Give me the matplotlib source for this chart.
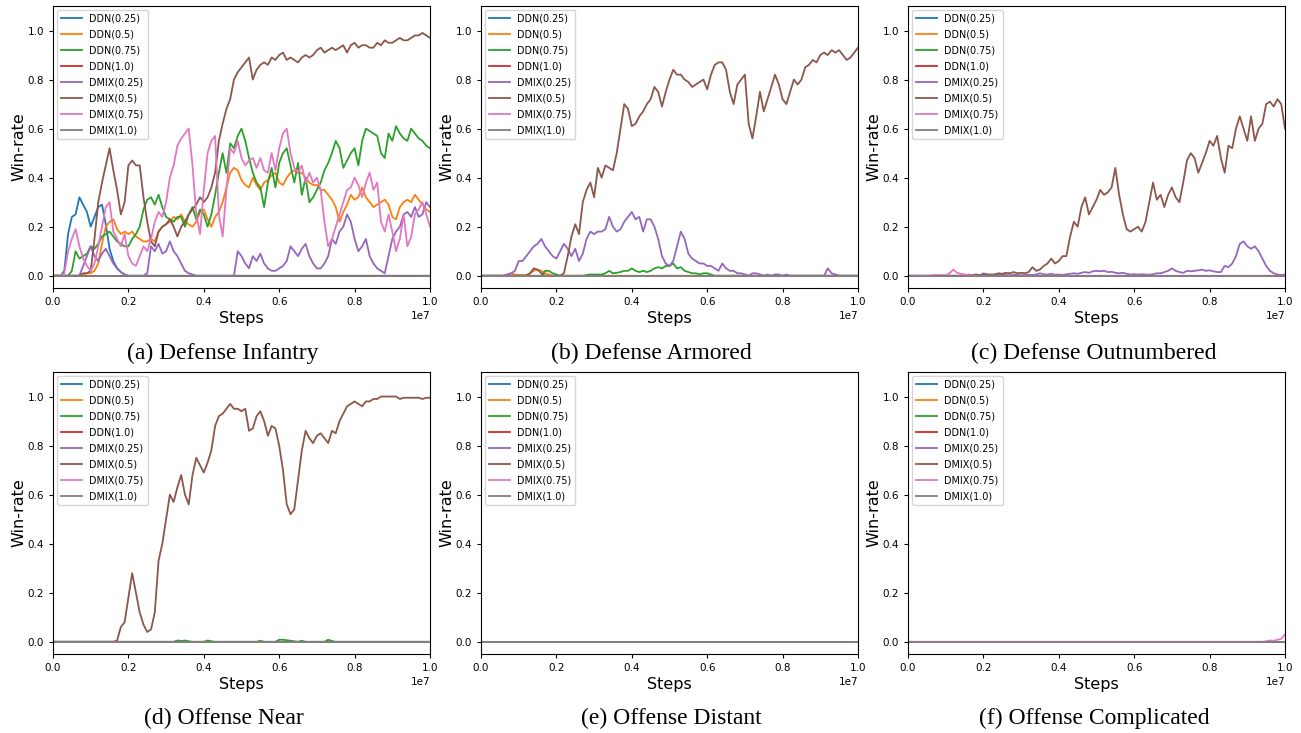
import numpy as np
import matplotlib
matplotlib.use("Agg")
import matplotlib.pyplot as plt

N_PTS = 101
steps = np.linspace(0, 1e7, N_PTS)

labels = ["DDN(0.25)", "DDN(0.5)", "DDN(0.75)", "DDN(1.0)",
          "DMIX(0.25)", "DMIX(0.5)", "DMIX(0.75)", "DMIX(1.0)"]
captions = ["(a) Defense Infantry", "(b) Defense Armored", "(c) Defense Outnumbered",
            "(d) Offense Near", "(e) Offense Distant", "(f) Offense Complicated"]


def pad(vals):
    # curves are flat at zero after the last value read
    return list(vals) + [0.0] * (N_PTS - len(vals))


zero = pad([])

# (a) Defense Infantry
a_ddn025 = pad([0, 0, 0, 0.02, 0.17, 0.24, 0.25, 0.32, 0.29, 0.26, 0.20, 0.24, 0.28, 0.29,
                0.21, 0.11, 0.06, 0.03, 0.015, 0.005])
a_ddn05 = pad([0, 0, 0, 0, 0, 0, 0, 0, 0.005, 0.01, 0.01, 0.02, 0.05, 0.13, 0.20, 0.22, 0.23,
               0.19, 0.17, 0.18, 0.17, 0.18, 0.16, 0.15, 0.14, 0.14, 0.15, 0.14, 0.18, 0.20,
               0.21, 0.22, 0.24, 0.23, 0.25, 0.22, 0.21, 0.20, 0.22, 0.26, 0.27, 0.23, 0.20,
               0.24, 0.26, 0.30, 0.36, 0.42, 0.44, 0.43, 0.39, 0.37, 0.36, 0.40, 0.37, 0.35,
               0.38, 0.39, 0.41, 0.42, 0.38, 0.37, 0.40, 0.42, 0.43, 0.42, 0.42, 0.40, 0.38,
               0.37, 0.37, 0.35, 0.35, 0.33, 0.31, 0.28, 0.22, 0.26, 0.29, 0.33, 0.31, 0.32,
               0.36, 0.32, 0.30, 0.28, 0.29, 0.30, 0.31, 0.29, 0.24, 0.23, 0.28, 0.30, 0.31,
               0.30, 0.33, 0.31, 0.29, 0.27, 0.26])
a_ddn075 = pad([0, 0, 0, 0, 0, 0.02, 0.10, 0.07, 0.08, 0.09, 0.12, 0.11, 0.13, 0.16, 0.17,
                0.18, 0.16, 0.14, 0.13, 0.12, 0.12, 0.15, 0.17, 0.20, 0.27, 0.31, 0.32, 0.29,
                0.33, 0.28, 0.24, 0.23, 0.22, 0.24, 0.24, 0.20, 0.25, 0.28, 0.23, 0.27, 0.25,
                0.20, 0.25, 0.33, 0.42, 0.50, 0.42, 0.54, 0.52, 0.57, 0.60, 0.55, 0.48, 0.42,
                0.38, 0.36, 0.28, 0.38, 0.44, 0.36, 0.46, 0.50, 0.52, 0.45, 0.38, 0.46, 0.33,
                0.40, 0.30, 0.32, 0.35, 0.38, 0.43, 0.46, 0.50, 0.55, 0.52, 0.44, 0.47, 0.50,
                0.52, 0.45, 0.55, 0.60, 0.59, 0.58, 0.57, 0.50, 0.48, 0.58, 0.55, 0.61, 0.58,
                0.56, 0.55, 0.60, 0.58, 0.56, 0.55, 0.53, 0.52])
a_dmix025 = pad([0, 0, 0, 0, 0, 0, 0, 0, 0.04, 0.08, 0.12, 0.08, 0.06, 0.09, 0.11, 0.08,
                 0.05, 0.03, 0.015, 0.005, 0, 0, 0, 0, 0, 0.01, 0.12, 0.10, 0.13, 0.09, 0.10,
                 0.14, 0.10, 0.08, 0.05, 0.02, 0.01, 0.005, 0, 0, 0, 0, 0, 0, 0, 0, 0, 0, 0,
                 0.10, 0.08, 0.05, 0.03, 0.08, 0.06, 0.09, 0.05, 0.03, 0.02, 0.02, 0.03, 0.04,
                 0.06, 0.12, 0.10, 0.08, 0.11, 0.13, 0.08, 0.05, 0.03, 0.03, 0.05, 0.08, 0.15,
                 0.13, 0.18, 0.20, 0.25, 0.22, 0.15, 0.10, 0.12, 0.15, 0.08, 0.05, 0.03, 0.02,
                 0.01, 0.08, 0.15, 0.18, 0.20, 0.25, 0.26, 0.24, 0.28, 0.24, 0.25, 0.30, 0.28])
a_dmix05 = pad([0, 0, 0, 0, 0, 0, 0, 0, 0.01, 0.01, 0.02, 0.15, 0.30, 0.38, 0.45, 0.52, 0.43,
                0.35, 0.25, 0.30, 0.45, 0.47, 0.45, 0.45, 0.32, 0.22, 0.14, 0.12, 0.18, 0.20,
                0.21, 0.23, 0.20, 0.16, 0.20, 0.22, 0.25, 0.27, 0.29, 0.32, 0.30, 0.32, 0.36,
                0.42, 0.55, 0.62, 0.68, 0.72, 0.80, 0.83, 0.85, 0.87, 0.89, 0.80, 0.84, 0.86,
                0.87, 0.86, 0.89, 0.88, 0.90, 0.91, 0.88, 0.89, 0.88, 0.87, 0.89, 0.90, 0.89,
                0.90, 0.92, 0.93, 0.91, 0.92, 0.93, 0.92, 0.93, 0.94, 0.91, 0.94, 0.95, 0.93,
                0.94, 0.94, 0.93, 0.93, 0.95, 0.94, 0.96, 0.95, 0.95, 0.96, 0.97, 0.96, 0.96,
                0.97, 0.98, 0.98, 0.99, 0.98, 0.97])
a_dmix075 = pad([0, 0, 0, 0.01, 0.10, 0.15, 0.19, 0.12, 0.07, 0.04, 0.02, 0.05, 0.12, 0.20,
                 0.28, 0.30, 0.18, 0.15, 0.12, 0.17, 0.08, 0.05, 0.04, 0.08, 0.12, 0.10, 0.15,
                 0.22, 0.26, 0.24, 0.30, 0.40, 0.45, 0.53, 0.56, 0.58, 0.60, 0.45, 0.25, 0.17,
                 0.35, 0.50, 0.55, 0.57, 0.25, 0.16, 0.35, 0.52, 0.50, 0.55, 0.48, 0.45, 0.47,
                 0.48, 0.44, 0.48, 0.43, 0.42, 0.50, 0.43, 0.52, 0.58, 0.60, 0.50, 0.44, 0.42,
                 0.45, 0.38, 0.42, 0.38, 0.40, 0.35, 0.22, 0.12, 0.15, 0.20, 0.25, 0.30, 0.35,
                 0.36, 0.40, 0.37, 0.32, 0.38, 0.42, 0.35, 0.38, 0.22, 0.18, 0.25, 0.18, 0.10,
                 0.15, 0.25, 0.12, 0.16, 0.25, 0.27, 0.30, 0.25, 0.20])

# (b) Defense Armored
b_ddn05 = pad([0, 0, 0, 0, 0, 0, 0, 0.005, 0.01, 0.005, 0.003, 0.003, 0.003, 0.01, 0.02,
               0.025, 0.02, 0.01, 0.005])
b_ddn075 = pad([0] * 17 + [0.02, 0.02, 0.01, 0.005, 0, 0, 0, 0, 0, 0, 0, 0.003, 0.005, 0.005,
                           0.005, 0.005, 0.01, 0.02, 0.01, 0.012, 0.015, 0.02, 0.02, 0.03,
                           0.02, 0.015, 0.02, 0.015, 0.02, 0.03, 0.035, 0.03, 0.04, 0.04, 0.05,
                           0.03, 0.035, 0.02, 0.015, 0.01, 0.01, 0.005, 0.01, 0.01, 0.005])
b_dmix025 = pad([0, 0, 0, 0, 0, 0, 0, 0.005, 0.01, 0.02, 0.06, 0.06, 0.08, 0.10, 0.12, 0.13,
                 0.15, 0.12, 0.10, 0.08, 0.07, 0.10, 0.13, 0.11, 0.08, 0.11, 0.06, 0.09, 0.15,
                 0.18, 0.17, 0.18, 0.18, 0.19, 0.24, 0.20, 0.18, 0.19, 0.22, 0.24, 0.26, 0.23,
                 0.24, 0.18, 0.23, 0.23, 0.20, 0.15, 0.08, 0.05, 0.04, 0.06, 0.12, 0.18, 0.15,
                 0.09, 0.07, 0.06, 0.05, 0.05, 0.04, 0.04, 0.03, 0.02, 0.05, 0.03, 0.02, 0.02,
                 0.01, 0.01, 0.005, 0, 0.01, 0.01, 0.005, 0, 0.005, 0, 0.005, 0.005, 0, 0.005,
                 0, 0, 0, 0, 0, 0, 0, 0, 0, 0, 0.03, 0.01, 0.005])
b_dmix05 = pad([0, 0, 0, 0, 0, 0, 0, 0, 0, 0, 0, 0, 0, 0.01, 0.03, 0.025, 0.01, 0, 0, 0, 0, 0,
                0.01, 0.08, 0.16, 0.21, 0.17, 0.30, 0.35, 0.38, 0.32, 0.44, 0.40, 0.45, 0.44,
                0.43, 0.50, 0.60, 0.70, 0.68, 0.61, 0.62, 0.65, 0.67, 0.70, 0.72, 0.77, 0.75,
                0.69, 0.75, 0.80, 0.84, 0.82, 0.82, 0.80, 0.79, 0.77, 0.78, 0.79, 0.80, 0.76,
                0.82, 0.86, 0.87, 0.87, 0.84, 0.75, 0.70, 0.78, 0.80, 0.82, 0.62, 0.56, 0.65,
                0.75, 0.67, 0.72, 0.77, 0.82, 0.78, 0.72, 0.70, 0.75, 0.80, 0.78, 0.80, 0.85,
                0.86, 0.88, 0.87, 0.90, 0.91, 0.90, 0.92, 0.91, 0.92, 0.90, 0.88, 0.89, 0.91,
                0.93])

# (c) Defense Outnumbered
c_dmix025 = pad([0] * 20 + [0.01, 0.005, 0.003, 0.005, 0.003, 0.005, 0.003, 0.002, 0.004,
                            0.003, 0.002, 0.003, 0.004, 0.003, 0.005, 0.01, 0.006, 0.005,
                            0.008, 0.004, 0.005, 0.003, 0.006, 0.008, 0.01, 0.008, 0.012,
                            0.015, 0.012, 0.018, 0.02, 0.018, 0.02, 0.015, 0.016, 0.012, 0.01,
                            0.012, 0.008, 0.005, 0.006, 0.005, 0.006, 0.005, 0.004, 0.006,
                            0.01, 0.01, 0.015, 0.02, 0.03, 0.02, 0.015, 0.012, 0.02, 0.018,
                            0.02, 0.022, 0.025, 0.02, 0.022, 0.018, 0.015, 0.015, 0.04, 0.035,
                            0.05, 0.08, 0.13, 0.14, 0.12, 0.11, 0.12, 0.10, 0.07, 0.04, 0.02,
                            0.01, 0.005, 0.003, 0.005])
c_dmix05 = pad([0] * 16 + [0.005, 0.003, 0.005, 0.003, 0.005, 0.005, 0.005, 0.005, 0.01,
                           0.008, 0.012, 0.01, 0.015, 0.01, 0.012, 0.01, 0.015, 0.035, 0.02,
                           0.025, 0.04, 0.05, 0.07, 0.05, 0.06, 0.08, 0.08, 0.16, 0.22, 0.20,
                           0.28, 0.32, 0.25, 0.28, 0.31, 0.35, 0.33, 0.34, 0.36, 0.44, 0.33,
                           0.25, 0.19, 0.18, 0.19, 0.20, 0.18, 0.22, 0.30, 0.38, 0.31, 0.33,
                           0.28, 0.33, 0.36, 0.32, 0.30, 0.38, 0.47, 0.50, 0.48, 0.42, 0.46,
                           0.50, 0.55, 0.53, 0.57, 0.48, 0.42, 0.53, 0.52, 0.60, 0.65, 0.60,
                           0.55, 0.65, 0.55, 0.60, 0.62, 0.70, 0.71, 0.69, 0.72, 0.70, 0.60])
c_dmix075 = pad([0, 0, 0, 0, 0, 0, 0, 0.003, 0.002, 0.003, 0.002, 0.01, 0.025, 0.012, 0.008,
                 0.005, 0.003, 0.002])

# (d) Offense Near
d_ddn075 = pad([0] * 33 + [0.005, 0.003, 0.005, 0.002, 0, 0, 0, 0, 0.005, 0.002] + [0] * 12 +
               [0.004, 0, 0, 0, 0, 0.008, 0.008, 0.006, 0.004, 0.002, 0, 0.004, 0, 0, 0, 0, 0,
                0, 0.008, 0.003])
d_dmix05 = pad([0] * 17 + [0.005, 0.06, 0.08, 0.18, 0.28, 0.20, 0.12, 0.07, 0.04, 0.05, 0.12,
                           0.33, 0.40, 0.50, 0.60, 0.57, 0.63, 0.68, 0.60, 0.56, 0.68, 0.75,
                           0.72, 0.69, 0.73, 0.78, 0.88, 0.92, 0.93, 0.95, 0.97, 0.95, 0.95,
                           0.94, 0.95, 0.86, 0.87, 0.92, 0.94, 0.90, 0.84, 0.88, 0.87, 0.80,
                           0.70, 0.56, 0.52, 0.54, 0.66, 0.78, 0.86, 0.83, 0.81, 0.84, 0.85,
                           0.83, 0.81, 0.86, 0.85, 0.90, 0.93, 0.96, 0.97, 0.98, 0.97, 0.96,
                           0.98, 0.98, 0.99, 0.99, 1.0, 1.0, 1.0, 1.0, 1.0, 0.99, 0.995, 0.995,
                           0.995, 0.995, 0.995, 0.99, 0.995, 0.995])

# (f) Offense Complicated
f_dmix075 = pad([0] * 95 + [0.002, 0.005, 0.004, 0.008, 0.012, 0.03])

panels = [
    [a_ddn025, a_ddn05, a_ddn075, zero, a_dmix025, a_dmix05, a_dmix075, zero],
    [zero, b_ddn05, b_ddn075, zero, b_dmix025, b_dmix05, zero, zero],
    [zero, zero, zero, zero, c_dmix025, c_dmix05, c_dmix075, zero],
    [zero, zero, d_ddn075, zero, zero, d_dmix05, zero, zero],
    [zero, zero, zero, zero, zero, zero, zero, zero],
    [zero, zero, zero, zero, zero, zero, f_dmix075, zero],
]

W, H = 1301, 733
fig = plt.figure(figsize=(W / 100, H / 100), dpi=100)

lefts = [53, 481, 908]
tops = [6, 372]
ax_w, ax_h = 377, 282
cap_x = [223, 651, 1094, 224, 671, 1094]
cap_y = [353, 718]

for k, series in enumerate(panels):
    r, c = divmod(k, 3)
    x0 = lefts[c]
    ax = fig.add_axes([x0 / W, 1 - (tops[r] + ax_h) / H, ax_w / W, ax_h / H])
    for i, (lab, vals) in enumerate(zip(labels, series)):
        ax.plot(steps, vals, color="C%d" % i, lw=1.3, label=lab)
    ax.set_xlim(0, 1e7)
    ax.set_ylim(-0.05, 1.1)
    ax.set_xticks([0, 2e6, 4e6, 6e6, 8e6, 1e7])
    ax.set_yticks([0, 0.2, 0.4, 0.6, 0.8, 1.0])
    ax.tick_params(labelsize=7.5, length=3)
    ax.xaxis.get_offset_text().set_fontsize(7.5)
    ax.set_xlabel("Steps", fontsize=11.5, labelpad=2.5)
    ax.set_ylabel("Win-rate", fontsize=11.5, labelpad=0.5)
    ax.legend(loc="upper left", fontsize=6.9, handlelength=2.2, labelspacing=0.62,
              borderaxespad=0.4)
    fig.text(cap_x[k] / W, 1 - cap_y[r] / H, captions[k],
             family="Liberation Serif", fontsize=17, ha="center", va="center")

fig.savefig("out.png", dpi=100)
